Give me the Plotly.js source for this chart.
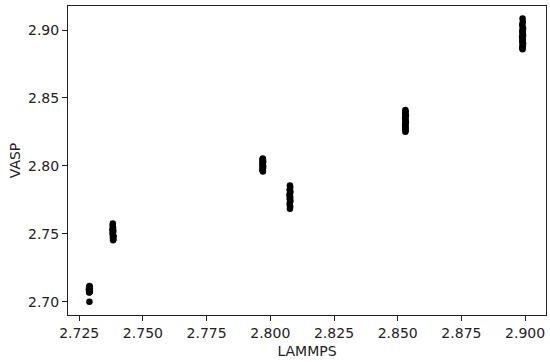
<!DOCTYPE html>
<html><head><meta charset="utf-8">
<script src="https://cdn.plot.ly/plotly-3.0.1.min.js"></script>
<style>html,body{margin:0;padding:0;background:#fff;}#chart{width:550px;height:362px;}</style>
</head><body><div id="chart"></div>
<script>
const lammps = [
  2.7290,2.7291,2.7289,2.7292,2.7290,2.7288,2.7291,2.7290,2.7292,2.7289,2.7290,2.7290,
  2.7382,2.7381,2.7383,2.7380,2.7384,2.7382,2.7381,2.7383,2.7385,2.7382,2.7384,2.7383,
  2.7970,2.7971,2.7969,2.7972,2.7970,2.7971,2.7969,2.7970,2.7972,2.7970,2.7971,2.7969,2.7970,2.7971,
  2.8077,2.8078,2.8076,2.8079,2.8077,2.8075,2.8078,2.8076,2.8079,2.8077,2.8076,2.8078,2.8077,
  2.8530,2.8531,2.8529,2.8530,2.8532,2.8530,2.8529,2.8531,2.8530,2.8532,2.8530,2.8529,2.8531,2.8530,2.8530,2.8531,2.8530,
  2.8990,2.8991,2.8989,2.8990,2.8992,2.8990,2.8989,2.8991,2.8990,2.8992,2.8988,2.8990,2.8991,2.8989,2.8990,2.8992,2.8990,2.8991,2.8989,2.8990
];
const vasp = [
  2.7115,2.7110,2.7105,2.7100,2.7095,2.7090,2.7085,2.7080,2.7075,2.7070,2.7068,2.7000,
  2.7575,2.7560,2.7545,2.7530,2.7520,2.7510,2.7500,2.7490,2.7480,2.7470,2.7460,2.7452,
  2.8055,2.8048,2.8040,2.8032,2.8025,2.8018,2.8010,2.8002,2.7995,2.7988,2.7980,2.7972,2.7965,2.7958,
  2.7855,2.7840,2.7825,2.7810,2.7795,2.7785,2.7770,2.7760,2.7745,2.7730,2.7715,2.7700,2.7685,
  2.8412,2.8400,2.8390,2.8380,2.8370,2.8360,2.8350,2.8340,2.8330,2.8320,2.8310,2.8300,2.8290,2.8280,2.8270,2.8260,2.8252,
  2.9085,2.9060,2.9040,2.9025,2.9010,2.9000,2.8990,2.8980,2.8970,2.8960,2.8950,2.8940,2.8930,2.8920,2.8910,2.8900,2.8890,2.8880,2.8870,2.8858
];
const xTicks = [2.725,2.750,2.775,2.800,2.825,2.850,2.875,2.900];
const xTickText = ["2.725","2.750","2.775","2.800","2.825","2.850","2.875","2.900"];
const yTicks = [2.70,2.75,2.80,2.85,2.90];
const yTickText = ["2.70","2.75","2.80","2.85","2.90"];

const font = {family:"DejaVu Sans", size:14, color:"#222"};
const data = [{
  x: lammps, y: vasp, type:"scatter", mode:"markers",
  marker:{color:"#000", size:6.5}, hoverinfo:"skip"
}];
const layout = {
  width:550, height:362,
  margin:{l:68, r:4, t:6, b:47},
  paper_bgcolor:"#fff", plot_bgcolor:"#fff",
  showlegend:false, font:font,
  xaxis:{
    range:[2.7206,2.9082], tickvals:xTicks, ticktext:xTickText,
    showgrid:false, zeroline:false, showline:true, linecolor:"#222", linewidth:1, mirror:true,
    ticks:"outside", ticklen:5, tickcolor:"#222", tickfont:font,
    title:{text:"LAMMPS", font:font, standoff:6}
  },
  yaxis:{
    range:[2.6902,2.9177], tickvals:yTicks, ticktext:yTickText,
    showgrid:false, zeroline:false, showline:true, linecolor:"#222", linewidth:1, mirror:true,
    ticks:"outside", ticklen:5, tickcolor:"#222", tickfont:font,
    title:{text:"VASP", font:font, standoff:4}
  }
};
Plotly.newPlot("chart", data, layout, {staticPlot:true, displayModeBar:false});
</script></body></html>
